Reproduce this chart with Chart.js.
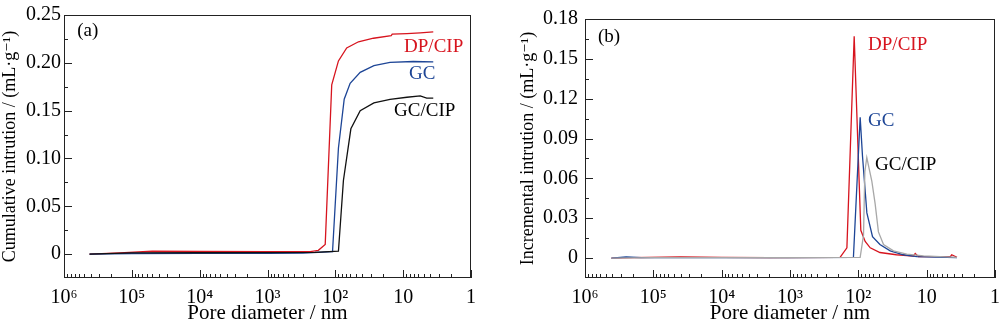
<!DOCTYPE html>
<html>
<head>
<meta charset="utf-8">
<script src="https://cdn.jsdelivr.net/npm/chart.js@4.4.0/dist/chart.umd.min.js"></script>
<style>
    body { margin: 0; background: #fff; }
    #wrap { position: relative; width: 1000px; height: 324px; }
    canvas { position: absolute; top: 0; }
    #chart-a { left: 0; }
    #chart-b { left: 500px; }
</style>
</head>
<body>
<div id="wrap">
    <canvas id="chart-a" width="500" height="324"></canvas>
    <canvas id="chart-b" width="500" height="324"></canvas>
</div>
<script>
// pore diameter in nm, intrusion in mL/g
let decadeTicks = [1e6, 1e5, 1e4, 1e3, 1e2, 10, 1];
let decadeLabels = ['10⁶', '10⁵', '10⁴', '10³', '10²', '10', '1'];

let cumYTicks = [0, 0.05, 0.10, 0.15, 0.20, 0.25];
let incYTicks = [0, 0.03, 0.06, 0.09, 0.12, 0.15, 0.18];

// (a) cumulative
let cumDpX = [420000, 150000, 50000, 10000, 1000, 234, 178, 141, 113, 90, 68, 45.6, 27.4, 15, 14.5, 8.8, 5.6, 3.6];
let cumDpY = [0, 0.0012, 0.003, 0.0028, 0.0026, 0.0025, 0.004, 0.010, 0.177, 0.202, 0.2156, 0.222, 0.2257, 0.2285, 0.2300, 0.2306, 0.2314, 0.2324];

let cumGcX = [420000, 100000, 10000, 1000, 300, 110, 90, 74, 60.5, 43, 27, 15.6, 7.1, 3.6];
let cumGcY = [0, 0.0006, 0.0008, 0.0008, 0.001, 0.0025, 0.111, 0.162, 0.1786, 0.190, 0.197, 0.2004, 0.2014, 0.201];

let cumGcCipX = [420000, 100000, 10000, 1000, 200, 90, 76, 59, 43, 27, 15.6, 8.8, 5.6, 4.5, 3.6];
let cumGcCipY = [0, 0.0012, 0.0014, 0.0016, 0.0018, 0.003, 0.077, 0.131, 0.150, 0.158, 0.1617, 0.164, 0.1655, 0.163, 0.163];

// (b) incremental
let incDpX = [410000, 200000, 40000, 10000, 2000, 185, 147, 115, 92, 79.4, 67, 48.3, 27.8, 15.6, 14.7, 13.2, 4.5, 4.3, 3.6];
let incDpY = [0, 0.0003, 0.0008, 0.0006, 0.0003, 0.0006, 0.0077, 0.167, 0.0209, 0.0125, 0.0077, 0.0042, 0.0025, 0.0016, 0.0034, 0.0011, 0.0011, 0.0025, 0.0006];

let incGcX = [410000, 250000, 150000, 50000, 10000, 1000, 118, 94, 87, 75, 62, 48.3, 34.2, 21.9, 13.9, 3.6];
let incGcY = [0, 0.0008, 0.0004, 0.0003, 0.0004, 0.0003, 0.0006, 0.106, 0.077, 0.034, 0.0161, 0.0102, 0.0054, 0.0025, 0.0011, 0.0004];

let incGcCipX = [410000, 100000, 10000, 1000, 94, 84, 80.3, 75.2, 63.4, 56.8, 50.8, 42.8, 30.6, 19.5, 11.1, 3.6];
let incGcCipY = [0, 0.0003, 0.0003, 0.0003, 0.0006, 0.0173, 0.065, 0.0757, 0.0578, 0.041, 0.0197, 0.0102, 0.0054, 0.003, 0.0016, 0.0006];

const RED = '#d7141e';
const BLUE = '#1d4596';
const BLACK = '#111111';
const GREY = '#a8a8a8';
const SERIF = "'Liberation Serif', 'DejaVu Serif', serif";

Chart.defaults.font.family = SERIF;
Chart.defaults.font.size = 20;
Chart.defaults.color = '#000';

function points(xs, ys) {
    return xs.map((x, i) => ({x: x, y: ys[i]}));
}

function minorLogTicks() {
    let out = [];
    for (let d of decadeTicks) {
        if (d >= 1e6) continue;
        for (let m = 2; m <= 9; m++) out.push(d * m);
    }
    return out;
}

function halfSteps(ticks) {
    let out = [];
    for (let i = 0; i < ticks.length - 1; i++) out.push((ticks[i] + ticks[i + 1]) / 2);
    return out;
}

// box around the plot with inward tick marks
let frameTicks = {
    id: 'frameTicks',
    afterDraw(chart, args, opts) {
        let {ctx, chartArea: a, scales} = chart;
        ctx.save();
        ctx.strokeStyle = '#222';
        ctx.lineWidth = 1;
        ctx.beginPath();
        for (let t of scales.x.ticks) {
            let px = Math.round(scales.x.getPixelForValue(t.value)) + 0.5;
            let len = decadeTicks.includes(t.value) ? 8 : 4;
            ctx.moveTo(px, a.bottom);
            ctx.lineTo(px, a.bottom - len);
        }
        for (let t of scales.y.ticks) {
            let py = Math.round(scales.y.getPixelForValue(t.value)) + 0.5;
            let len = opts.major.includes(t.value) ? 8 : 4;
            ctx.moveTo(a.left, py);
            ctx.lineTo(a.left + len, py);
        }
        ctx.stroke();
        ctx.strokeRect(Math.round(a.left) + 0.5, Math.round(a.top) + 0.5, Math.round(a.width) - 1, Math.round(a.height) - 1);
        ctx.restore();
    }
};

// text labels placed in data coordinates
let notes = {
    id: 'notes',
    afterDraw(chart, args, opts) {
        let {ctx, scales} = chart;
        ctx.save();
        ctx.font = '19px ' + SERIF;
        ctx.textAlign = 'left';
        ctx.textBaseline = 'middle';
        for (let n of opts.items) {
            ctx.fillStyle = n.color;
            ctx.fillText(n.text, scales.x.getPixelForValue(n.x), scales.y.getPixelForValue(n.y));
        }
        ctx.restore();
    }
};

function createPanel(canvasId, p) {
    let allX = decadeTicks.concat(minorLogTicks());
    let allY = p.yTicks.concat(halfSteps(p.yTicks));
    return new Chart(document.getElementById(canvasId), {
        type: 'line',
        data: {
            datasets: p.series.map(s => ({
                data: points(s.x, s.y),
                borderColor: s.color,
                borderWidth: 1.3,
                pointRadius: 0,
                fill: false,
                tension: 0
            }))
        },
        options: {
            responsive: false,
            animation: false,
            devicePixelRatio: 1,
            layout: {padding: {top: 6, right: p.padRight, left: 0, bottom: 0}},
            plugins: {
                legend: {display: false},
                tooltip: {enabled: false},
                frameTicks: {major: p.yTicks},
                notes: {items: p.notes}
            },
            scales: {
                x: {
                    type: 'logarithmic',
                    reverse: true,
                    min: 1,
                    max: 1e6,
                    grid: {display: false, drawTicks: false},
                    border: {display: false},
                    afterBuildTicks: scale => { scale.ticks = allX.map(v => ({value: v})); },
                    afterFit: scale => { scale.height = 46; },
                    ticks: {
                        autoSkip: false,
                        maxRotation: 0,
                        padding: 8,
                        callback: value => {
                            let i = decadeTicks.indexOf(value);
                            return i < 0 ? '' : decadeLabels[i];
                        }
                    },
                    title: {
                        display: true,
                        text: 'Pore diameter / nm',
                        font: {size: 21, lineHeight: 1},
                        padding: {top: 0, bottom: 0}
                    }
                },
                y: {
                    type: 'linear',
                    min: p.yMin,
                    max: p.yMax,
                    grid: {display: false, drawTicks: false},
                    border: {display: false},
                    afterBuildTicks: scale => { scale.ticks = allY.map(v => ({value: v})); },
                    afterFit: scale => { scale.width = p.yWidth; },
                    ticks: {
                        autoSkip: false,
                        padding: p.tickPad,
                        callback: value => {
                            if (!p.yTicks.includes(value)) return '';
                            return value === 0 ? '0' : value.toFixed(2);
                        }
                    },
                    title: {
                        display: true,
                        text: p.yTitle,
                        font: {size: 18, lineHeight: 1},
                        padding: {top: p.titlePad, bottom: 0}
                    }
                }
            }
        },
        plugins: [frameTicks, notes]
    });
}

createPanel('chart-a', {
    yTicks: cumYTicks, yMin: -0.025, yMax: 0.25,
    yTitle: 'Cumulative intrution / (mL·g⁻¹)',
    yWidth: 64, padRight: 29, titlePad: 1, tickPad: 3,
    series: [
        {x: cumGcCipX, y: cumGcCipY, color: BLACK},
        {x: cumGcX, y: cumGcY, color: BLUE},
        {x: cumDpX, y: cumDpY, color: RED}
    ],
    notes: [
        {text: '(a)', x: 6.4e5, y: 0.2328, color: '#000'},
        {text: 'DP/CIP', x: 9.7, y: 0.2166, color: RED},
        {text: 'GC', x: 8.2, y: 0.188, color: BLUE},
        {text: 'GC/CIP', x: 13.6, y: 0.150, color: '#000'}
    ]
});

createPanel('chart-b', {
    yTicks: incYTicks, yMin: -0.015, yMax: 0.18,
    yTitle: 'Incremental intrution / (mL·g⁻¹)',
    yWidth: 85, padRight: 5, titlePad: 19, tickPad: 7,
    series: [
        {x: incGcCipX, y: incGcCipY, color: GREY},
        {x: incGcX, y: incGcY, color: BLUE},
        {x: incDpX, y: incDpY, color: RED}
    ],
    notes: [
        {text: '(b)', x: 6.45e5, y: 0.1664, color: '#000'},
        {text: 'DP/CIP', x: 72, y: 0.1607, color: RED},
        {text: 'GC', x: 72, y: 0.1034, color: BLUE},
        {text: 'GC/CIP', x: 56.8, y: 0.0698, color: '#000'}
    ]
});
</script>
</body>
</html>
